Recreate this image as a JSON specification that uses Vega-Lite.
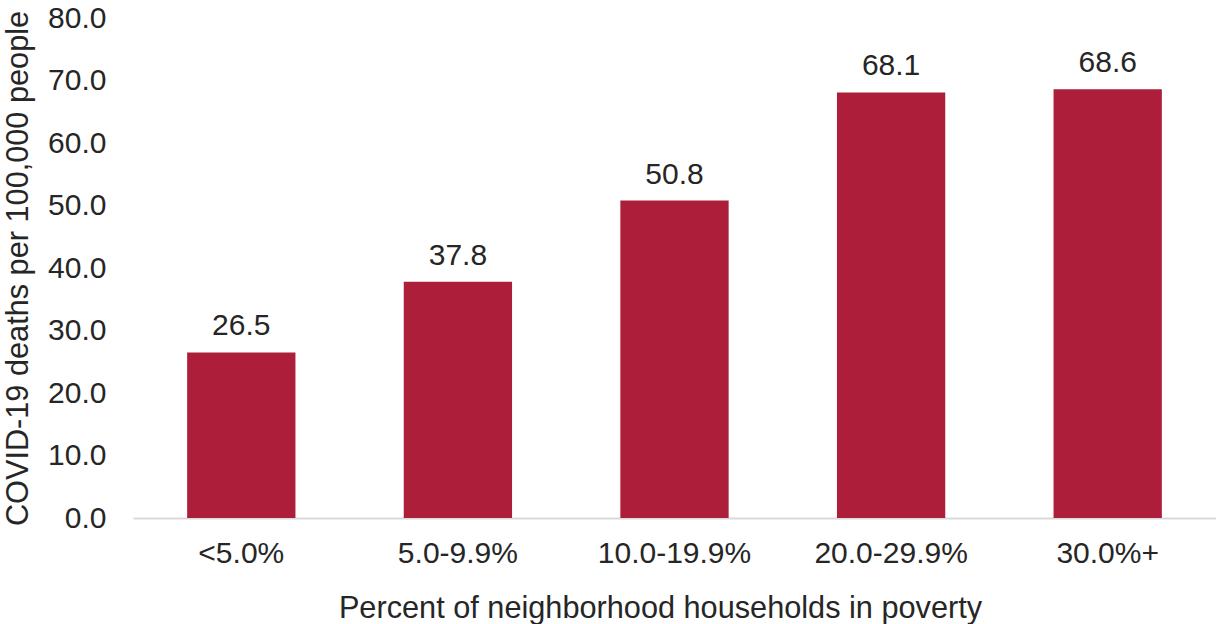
{
  "$schema": "https://vega.github.io/schema/vega-lite/v6.json",
  "width": 1083,
  "height": 500,
  "autosize": {"type": "none"},
  "padding": {"left": 133, "top": 18, "right": 0, "bottom": 106},
  "background": "white",
  "config": {
    "view": {"stroke": null},
    "font": "Liberation Sans",
    "axis": {"labelFont": "Liberation Sans", "titleFont": "Liberation Sans", "labelColor": "#262626", "titleColor": "#262626", "titleFontWeight": "normal", "labelFontSize": 30, "titleFontSize": 30.7}
  },
  "data": {
    "values": [
      {"poverty": "<5.0%", "rate": 26.5},
      {"poverty": "5.0-9.9%", "rate": 37.8},
      {"poverty": "10.0-19.9%", "rate": 50.8},
      {"poverty": "20.0-29.9%", "rate": 68.1},
      {"poverty": "30.0%+", "rate": 68.6}
    ]
  },
  "encoding": {
    "x": {
      "field": "poverty",
      "type": "nominal",
      "sort": null,
      "scale": {"paddingInner": 0.5, "paddingOuter": 0.25},
      "axis": {
        "title": "Percent of neighborhood households in poverty",
        "labelAngle": 0,
        "ticks": false,
        "labelPadding": 20,
        "titlePadding": 25,
        "titleX": 527,
        "domainColor": "#d9d9d9",
        "domainWidth": 2
      }
    },
    "y": {
      "field": "rate",
      "type": "quantitative",
      "scale": {"domain": [0, 80], "nice": false},
      "axis": {
        "title": "COVID-19 deaths per 100,000 people",
        "values": [0, 10, 20, 30, 40, 50, 60, 70, 80],
        "format": ".1f",
        "grid": false,
        "domain": false,
        "ticks": false,
        "labelPadding": 27,
        "titlePadding": 14
      }
    }
  },
  "layer": [
    {"mark": {"type": "bar", "color": "#AD1E3A"}},
    {
      "mark": {"type": "text", "baseline": "alphabetic", "dy": -17, "fontSize": 30, "color": "#262626", "font": "Liberation Sans"},
      "encoding": {"text": {"field": "rate", "type": "quantitative", "format": ".1f"}}
    }
  ]
}
